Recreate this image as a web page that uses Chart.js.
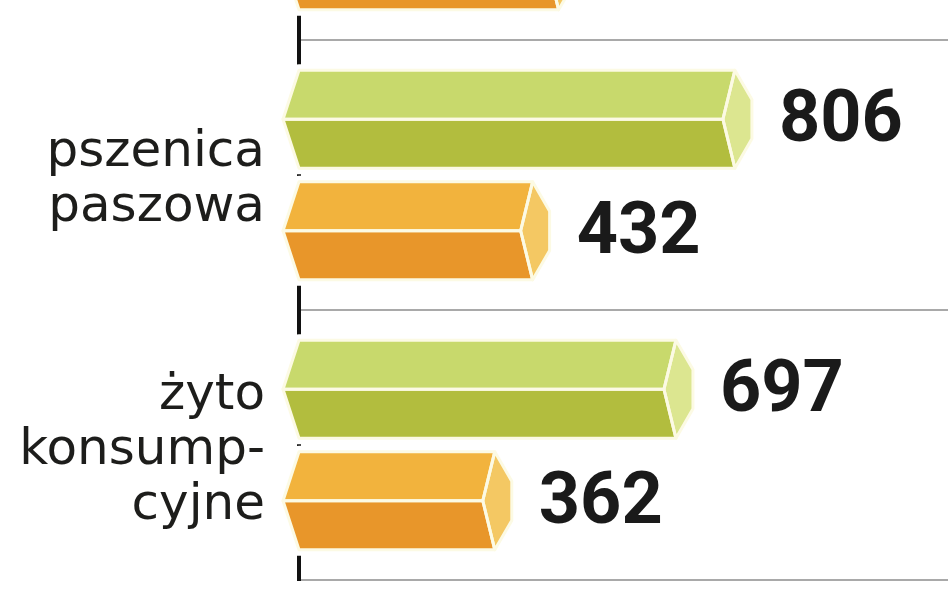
<!DOCTYPE html>
<html>
<head>
<meta charset="utf-8">
<script src="https://cdn.jsdelivr.net/npm/chart.js@4.4.1/dist/chart.umd.min.js"></script>
<style>
  html, body { margin: 0; padding: 0; background: #ffffff; overflow: hidden; width: 948px; height: 593px; }
  #wrap { position: absolute; left: 0; top: -230px; width: 948px; height: 812px; }
</style>
</head>
<body>
<div id="wrap"><canvas id="c" width="948" height="812"></canvas></div>
<script>
// Data (first category is the one cut off at the top of the picture)
const categories = ['', ['pszenica', 'paszowa'], ['żyto', 'konsump-', 'cyjne']];
const greenValues = [null, 806, 697];
const orangeValues = [480, 432, 362];
const xMin = 0;
const xMax = 1200;

const palette = {
  green:  { top: '#c8d96c', bottom: '#b2bd3e', cap: '#dce690' },
  orange: { top: '#f2b33d', bottom: '#e8962a', cap: '#f4c863' }
};

const prismPlugin = {
  id: 'prism',
  afterDatasetsDraw(chart) {
    const ctx = chart.ctx;
    chart.data.datasets.forEach((ds, di) => {
      const meta = chart.getDatasetMeta(di);
      const col = palette[ds.colorKey];
      meta.data.forEach((el, i) => {
        const v = ds.data[i];
        if (v == null) return;
        const p = el.getProps(['x', 'y', 'base', 'height'], true);
        const xe = p.x, xb = p.base, h = p.height;
        const yt = p.y - h / 2, yb = p.y + h / 2, ym = p.y;
        const tipL = 16, inR = 12, capW = 17, capH = 0.2 * h;
        const outline = [[xb, yt], [xe, yt], [xe + capW, ym - capH], [xe + capW, ym + capH], [xe, yb], [xb, yb], [xb - tipL, ym]];
        const topFace = [[xb, yt], [xe, yt], [xe - inR, ym], [xb - tipL, ym]];
        const botFace = [[xb - tipL, ym], [xe - inR, ym], [xe, yb], [xb, yb]];
        const capFace = [[xe, yt], [xe + capW, ym - capH], [xe + capW, ym + capH], [xe, yb], [xe - inR, ym]];
        const path = (pts) => {
          ctx.beginPath();
          ctx.moveTo(pts[0][0], pts[0][1]);
          for (let k = 1; k < pts.length; k++) ctx.lineTo(pts[k][0], pts[k][1]);
          ctx.closePath();
        };
        ctx.save();
        ctx.lineJoin = 'round';
        path(outline);
        ctx.strokeStyle = '#ffffff';
        ctx.lineWidth = 12;
        ctx.stroke();
        ctx.fillStyle = '#ffffff';
        ctx.fill();
        [[topFace, col.top], [botFace, col.bottom], [capFace, col.cap]].forEach(([pts, c]) => {
          path(pts);
          ctx.fillStyle = c;
          ctx.fill();
        });
        [topFace, botFace, capFace].forEach((pts) => {
          path(pts);
          ctx.strokeStyle = '#fcfae4';
          ctx.lineWidth = 3;
          ctx.stroke();
        });
        ctx.font = 'bold 72px Roboto';
        ctx.fillStyle = '#1a1a1a';
        ctx.textAlign = 'left';
        ctx.textBaseline = 'alphabetic';
        ctx.fillText(String(v), xe + 44, ym + 22);
        ctx.restore();
      });
    });
  }
};

new Chart(document.getElementById('c'), {
  type: 'bar',
  data: {
    labels: categories,
    datasets: [
      { label: 'green', colorKey: 'green', data: greenValues, backgroundColor: 'rgba(0,0,0,0)', borderWidth: 0,
        categoryPercentage: 0.826, barPercentage: 0.88 },
      { label: 'orange', colorKey: 'orange', data: orangeValues, backgroundColor: 'rgba(0,0,0,0)', borderWidth: 0,
        categoryPercentage: 0.826, barPercentage: 0.88 }
    ]
  },
  options: {
    indexAxis: 'y',
    responsive: false,
    animation: false,
    devicePixelRatio: 1,
    layout: { padding: { top: 0, bottom: 2, left: 0, right: 0 } },
    plugins: { legend: { display: false }, tooltip: { enabled: false } },
    scales: {
      x: { type: 'linear', min: xMin, max: xMax, display: false },
      y: {
        type: 'category',
        offset: true,
        grid: { offset: true, drawTicks: false, color: '#a9a9a9', lineWidth: 2 },
        border: { display: true, color: '#111111', width: 4 },
        ticks: {
          padding: 34,
          labelOffset: 6,
          color: '#1d1d1b',
          font: { family: 'DejaVu Sans', size: 50, lineHeight: 1.1 }
        },
        afterFit(scale) {
          scale.width = 299;
          scale.paddingTop = 0;
          scale.paddingBottom = 0;
        }
      }
    }
  },
  plugins: [prismPlugin]
});
</script>
</body>
</html>
